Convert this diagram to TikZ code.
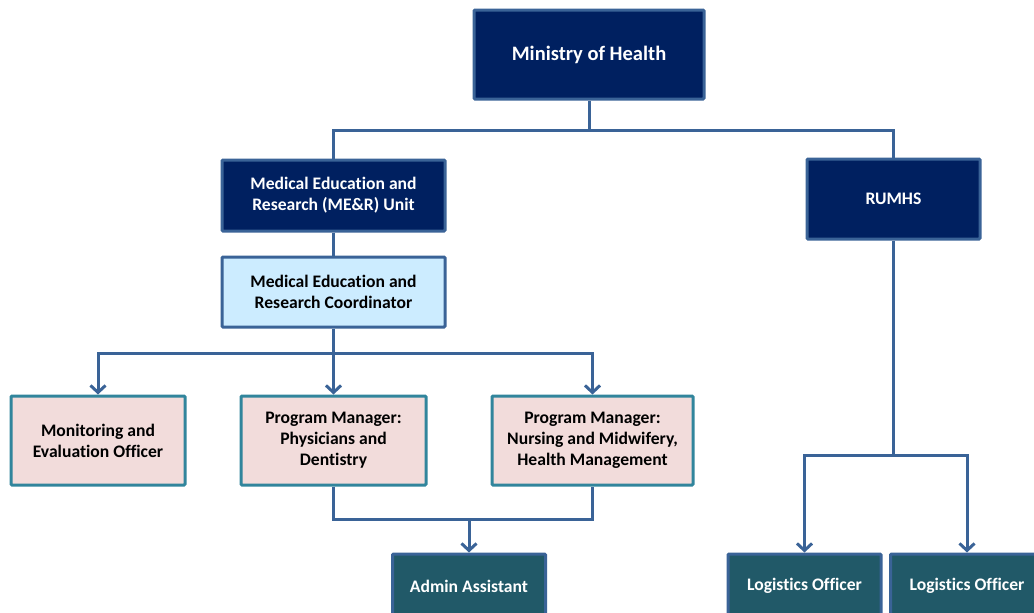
\documentclass[tikz,border=0pt]{standalone}
\usepackage{fontspec}
\setmainfont[Ligatures=NoCommon]{Carlito}
\usetikzlibrary{arrows.meta}

\definecolor{navy}{HTML}{002060}
\definecolor{navyline}{HTML}{3A6397}
\definecolor{paleblue}{HTML}{CCECFF}
\definecolor{palepink}{HTML}{F2DCDB}
\definecolor{tealline}{HTML}{31859C}
\definecolor{darkteal}{HTML}{215968}

\begin{document}
\begin{tikzpicture}[x=1pt,y=-1pt,>={Straight Barb[length=7pt,width=15pt]},
  box/.style={rectangle,draw,line width=3pt,rounded corners=1pt,align=center,
    font=\fontsize{17.6}{21}\selectfont\bfseries,inner sep=0pt},
  head node/.style={box,fill=navy,draw=navyline,text=white},
  coord node/.style={box,fill=paleblue,draw=navyline},
  post node/.style={box,fill=palepink,draw=tealline,minimum height=89pt},
  staff node/.style={box,fill=darkteal,draw=navyline,text=white,minimum width=153pt,minimum height=64pt},
  link/.style={draw=navyline,line width=3pt}]

  \clip (0,0) rectangle (1034,613);

  \node[head node,minimum width=230pt,minimum height=89pt,font=\fontsize{20.5}{24}\selectfont\bfseries] (moh) at (589,54.5) {Ministry of Health};
  \node[head node,minimum width=223pt,minimum height=71pt] (unit) at (333.5,195.5) {Medical Education and\\Research (ME\&R) Unit};
  \node[head node,minimum width=173pt,minimum height=80pt] (rumhs) at (893.5,199) {RUMHS};
  \node[coord node,minimum width=223pt,minimum height=70pt] (coord) at (333.5,292) {Medical Education and\\Research Coordinator};

  % the three posts under the coordinator
  \node[post node,minimum width=174pt] (mon) at (98,440.5) {Monitoring and\\Evaluation Officer};
  \node[post node,minimum width=185pt] (pmphys) at (333.5,440.5) {Program Manager:\\Physicians and\\Dentistry};
  \node[post node,minimum width=201pt] (pmnurs) at (592.5,440.5) {Program Manager:\\Nursing and Midwifery,\\Health Management};

  \node[staff node] (admin) at (469,586) {Admin Assistant};
  \node[staff node] (log1) at (804.5,586) {Logistics Officer};
  \node[staff node] (log2) at (967,586) {Logistics Officer};

  \coordinate (mbus) at (589,130);
  \coordinate (cbus) at (333.5,353);
  \coordinate (join) at (469,519);
  \coordinate (rbus) at (893.5,455);

  \path[link]
    (moh) edge (mbus)
    (unit) edge (coord)
    (rumhs) edge (rbus);
  \draw[link] (mbus) -| (unit);
  \draw[link] (mbus) -| (rumhs);
  \draw[link,->] (coord) -- (pmphys);
  \draw[link,->] (cbus) -| (mon);
  \draw[link,->] (cbus) -| (pmnurs);
  \draw[link] (pmphys) |- (join) -| (pmnurs);
  \draw[link,->] (join) -- (admin);
  \draw[link,->] (rbus) -| (log1);
  \draw[link,->] (rbus) -| (log2);
\end{tikzpicture}
\end{document}
